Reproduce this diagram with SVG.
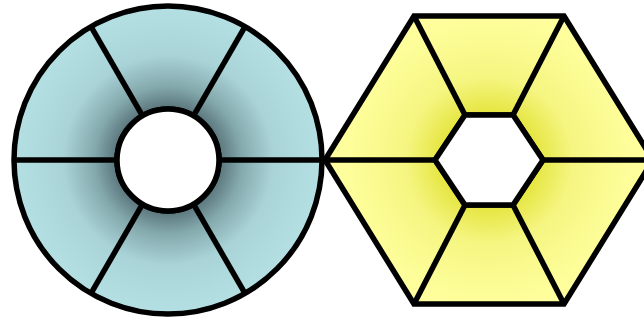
<svg xmlns="http://www.w3.org/2000/svg" width="644" height="321" viewBox="0 0 644 321">
  <defs>
    <radialGradient id="gBlue" gradientUnits="userSpaceOnUse" cx="168" cy="160" r="154">
      <stop offset="0.33" stop-color="#587379"/>
      <stop offset="0.48" stop-color="#84a9ad"/>
      <stop offset="0.68" stop-color="#a9d3d7"/>
      <stop offset="1" stop-color="#b4e0e4"/>
    </radialGradient>
    <radialGradient id="gYellow" gradientUnits="userSpaceOnUse" cx="489" cy="160" r="166">
      <stop offset="0.27" stop-color="#e4e43c"/>
      <stop offset="0.5" stop-color="#f5f581"/>
      <stop offset="0.8" stop-color="#fdfd98"/>
      <stop offset="1" stop-color="#ffffa0"/>
    </radialGradient>
    <style>
      .edge { stroke: #000; stroke-width: 5.5; fill: none; }
      .shape { stroke: #000; stroke-width: 5.5; stroke-linejoin: miter; }
    </style>
  </defs>
  <rect width="644" height="321" fill="#fff"/>
  <g id="ring-node">
    <path class="shape" fill="url(#gBlue)" fill-rule="evenodd" d="M14,160 A154,154 0 1,0 322,160 A154,154 0 1,0 14,160 Z M117,160 A51,51 0 1,0 219,160 A51,51 0 1,0 117,160 Z"/>
    <circle cx="168" cy="160" r="51" fill="#fff" class="shape"/>
    <g class="edge">
      <line x1="219" y1="160" x2="322" y2="160"/>
      <line x1="117" y1="160" x2="14" y2="160"/>
      <line x1="193.5" y1="115.8" x2="245" y2="26.6"/>
      <line x1="142.5" y1="115.8" x2="91" y2="26.6"/>
      <line x1="193.5" y1="204.2" x2="245" y2="293.4"/>
      <line x1="142.5" y1="204.2" x2="91" y2="293.4"/>
    </g>
  </g>
  <g id="hexagon-node">
    <path class="shape" fill="url(#gYellow)" fill-rule="evenodd" d="M325,160 L414,16 L564,16 L653,160 L564,304 L414,304 Z M435,160 L465,115 L513,115 L543,160 L513,205 L465,205 Z"/>
    <polygon class="shape" fill="#fff" points="435,160 465,115 513,115 543,160 513,205 465,205"/>
    <g class="edge">
      <line x1="435" y1="160" x2="325" y2="160"/>
      <line x1="465" y1="115" x2="414" y2="16"/>
      <line x1="513" y1="115" x2="564" y2="16"/>
      <line x1="543" y1="160" x2="653" y2="160"/>
      <line x1="513" y1="205" x2="564" y2="304"/>
      <line x1="465" y1="205" x2="414" y2="304"/>
    </g>
  </g>
  <g id="connectors"/>
</svg>
